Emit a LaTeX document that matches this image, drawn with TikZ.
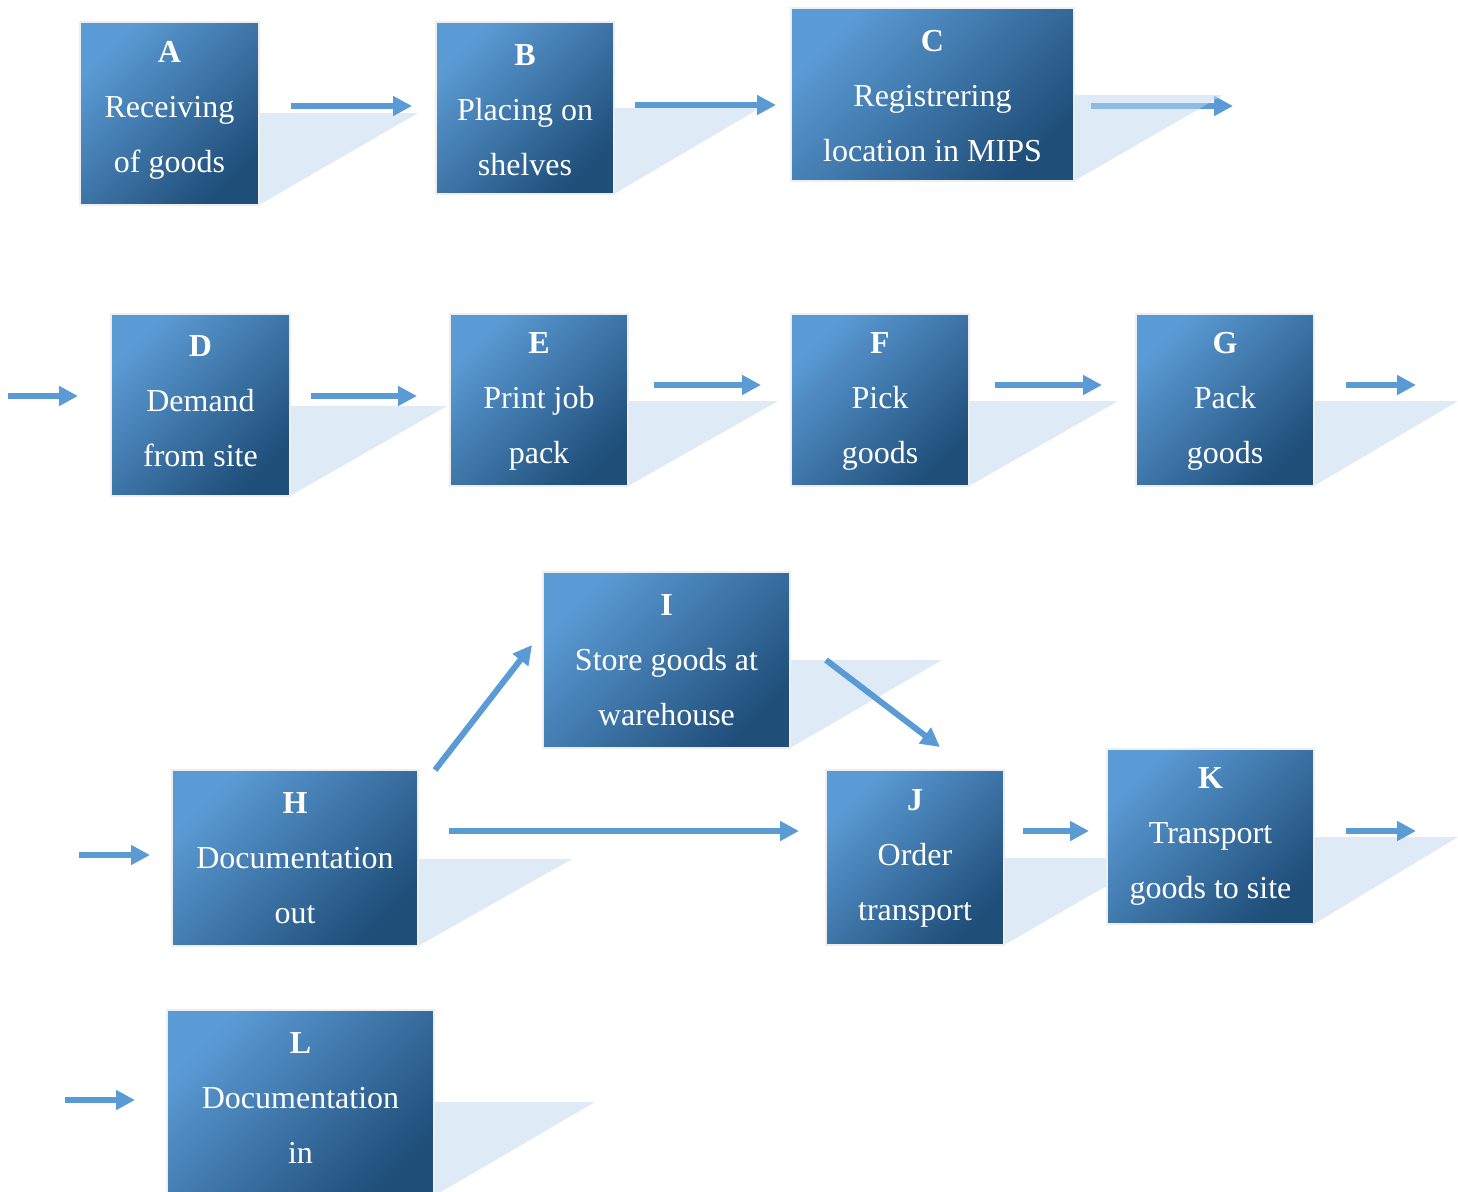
\documentclass[tikz,border=0pt]{standalone}
\usepackage{fontspec}
\setmainfont{Liberation Serif}
\usetikzlibrary{arrows.meta,calc}
\definecolor{boxlight}{HTML}{5B9BD5}
\definecolor{boxdark}{HTML}{1F4E79}
\definecolor{shadowblue}{HTML}{DEEAF6}
\definecolor{arrowblue}{HTML}{5B9BD5}
\definecolor{rim}{HTML}{EEEEEE}
\begin{document}
\begin{tikzpicture}[x=1pt,y=-1pt,
  box/.style={anchor=north west, draw=rim, line width=2pt, inner sep=0pt, outer sep=0pt,
    top color=boxlight, bottom color=boxdark, shading angle=45},
  lbl/.style={text=white, align=center, inner sep=0pt, font=\fontsize{32}{55}\selectfont},
  flow/.style={draw=arrowblue, line width=6pt, -{Triangle[length=19pt,width=19pt]}},
  shadowtri/.style={fill=shadowblue}]
\useasboundingbox (0,0) rectangle (1458,1191);
\clip (0,0) rectangle (1458,1191);

% shadows
\fill[shadowtri] (259,113) -- (418,113) -- (259,205) -- cycle;
\fill[shadowtri] (614,108) -- (760,108) -- (614,194) -- cycle;
\fill[shadowtri] (1074,95) -- (1223,95) -- (1074,181) -- cycle;
\fill[shadowtri] (290,406) -- (447,406) -- (290,496) -- cycle;
\fill[shadowtri] (628,401) -- (778,401) -- (628,486) -- cycle;
\fill[shadowtri] (969,401) -- (1118,401) -- (969,486) -- cycle;
\fill[shadowtri] (1314,401) -- (1458,401) -- (1314,486) -- cycle;
\fill[shadowtri] (790,660) -- (942,660) -- (790,748) -- cycle;
\fill[shadowtri] (418,859) -- (572,859) -- (418,946) -- cycle;
\fill[shadowtri] (1004,858) -- (1155,858) -- (1004,945) -- cycle;
\fill[shadowtri] (1314,837) -- (1458,837) -- (1314,924) -- cycle;
\fill[shadowtri] (434,1102) -- (595,1102) -- (434,1196) -- cycle;

% boxes
\node[box, minimum width=179, minimum height=183] (A) at (80,22) {};
\node[box, minimum width=178, minimum height=172] (B) at (436,22) {};
\node[box, minimum width=283, minimum height=173] (C) at (791,8) {};
\node[box, minimum width=179, minimum height=182] (D) at (111,314) {};
\node[box, minimum width=178, minimum height=172] (E) at (450,314) {};
\node[box, minimum width=178, minimum height=172] (F) at (791,314) {};
\node[box, minimum width=178, minimum height=172] (G) at (1136,314) {};
\node[box, minimum width=247, minimum height=176] (I) at (543,572) {};
\node[box, minimum width=246, minimum height=176] (H) at (172,770) {};
\node[box, minimum width=178, minimum height=175] (J) at (826,770) {};
\node[box, minimum width=207, minimum height=175] (K) at (1107,749) {};
\node[box, minimum width=267, minimum height=190] (L) at (167,1010) {};

% labels
\node[lbl] (tA) at (169.5,110) {\textbf{A}\\Receiving\\of goods};
\node[lbl] (tB) at (525,110) {\textbf{B}\\Placing on\\shelves};
\node[lbl] (tC) at (932.5,96) {\textbf{C}\\Registrering\\location in MIPS};
\node[lbl] (tD) at (200.5,401) {\textbf{D}\\Demand\\from site};
\node[lbl] (tE) at (539,401) {\textbf{E}\\Print job\\pack};
\node[lbl] (tF) at (880,401) {\textbf{F}\\Pick\\goods};
\node[lbl] (tG) at (1225,401) {\textbf{G}\\Pack\\goods};
\node[lbl] (tI) at (666.5,660) {\textbf{I}\\Store goods at\\warehouse};
\node[lbl] (tH) at (295,858) {\textbf{H}\\Documentation\\out};
\node[lbl] (tJ) at (915,858) {\textbf{J}\\Order\\transport};
\node[lbl] (tK) at (1210.5,836) {\textbf{K}\\Transport\\goods to site};
\node[lbl] (tL) at (300.5,1098) {\textbf{L}\\Documentation\\in};

% free ends
\coordinate (cout) at (1233,106);
\coordinate (din) at (8,396);
\coordinate (gout) at (1416,385);
\coordinate (hin) at (79,855);
\coordinate (kout) at (1416,831);
\coordinate (lin) at (65,1100);

% connectors
\draw[flow] ($(A.east)+(32,-7.5)$) -- ($(B.west)+(-24,-2)$);
\draw[flow] ($(B.east)+(21,-3)$) -- ($(C.west)+(-15,10.5)$);
\draw[flow] ($(C.east)+(17,11.5)$) -- (cout);
\fill[shadowtri, opacity=0.4] (1074,95) -- (1223,95) -- (1074,181) -- cycle;
\draw[flow] (din) -- ($(D.west)+(-33,-9)$);
\draw[flow] ($(D.east)+(21,-9)$) -- ($(E.west)+(-33,-4)$);
\draw[flow] ($(E.east)+(26,-15)$) -- ($(F.west)+(-30,-15)$);
\draw[flow] ($(F.east)+(26,-15)$) -- ($(G.west)+(-34,-15)$);
\draw[flow] ($(G.east)+(32,-15)$) -- (gout);
\draw[flow] ($(H.north east)+(17,0)$) -- ($(I.west)+(-11,-15)$);
\draw[flow] ($(I.east)+(36,0)$) -- ($(J.north)+(25,-23)$);
\draw[flow] (hin) -- ($(H.west)+(-22,-3)$);
\draw[flow] ($(H.east)+(31,-27)$) -- ($(J.west)+(-27,-26.5)$);
\draw[flow] ($(J.east)+(19,-26.5)$) -- ($(K.west)+(-18,-5.5)$);
\draw[flow] ($(K.east)+(32,-5.5)$) -- (kout);
\draw[flow] (lin) -- ($(L.west)+(-32,-5)$);
\end{tikzpicture}
\end{document}
